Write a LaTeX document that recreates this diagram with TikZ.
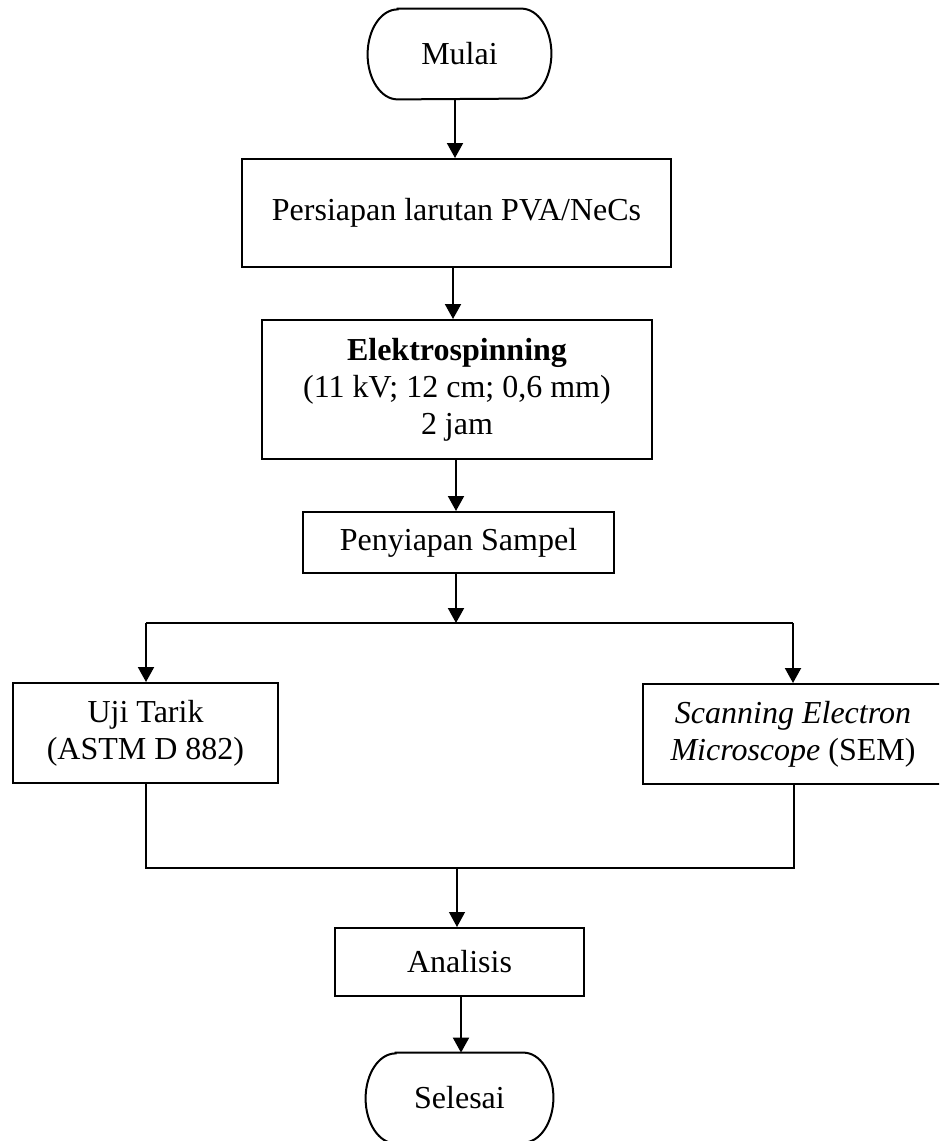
\documentclass[tikz,border=0pt]{standalone}
\usepackage{fontspec}
\setmainfont{Liberation Serif}
\usetikzlibrary{arrows.meta}
\newcommand\termshape[1]{%
  \draw[boxline] ([xshift=15pt]#1.north west) -- ([xshift=-15pt]#1.north east)
    arc[start angle=90,end angle=-90,x radius=15pt,y radius=22.5pt]
    -- ([xshift=15pt]#1.south west)
    arc[start angle=270,end angle=90,x radius=15pt,y radius=22.5pt] -- cycle;}
\begin{document}
\begin{tikzpicture}[x=0.5pt,y=-0.5pt,
  boxline/.style={line width=1pt,draw=black},
  procbox/.style={boxline,inner sep=0pt,align=center,font=\fontsize{16}{18.4}\selectfont},
  termnode/.style={inner sep=0pt,align=center,font=\fontsize{16}{18.4}\selectfont,minimum height=45pt},
  arr/.style={line width=1pt,-{Triangle[length=7.5pt,width=8pt]}},
  conn/.style={line width=1pt}]
\clip (0,0) rectangle (939,1141);
\node[termnode,minimum width=91.5pt] (mulai) at (459.5,54) {Mulai};
\termshape{mulai}
\node[procbox,minimum width=214.5pt,minimum height=54pt] (persiapan) at (456.5,213) {Persiapan larutan PVA/NeCs};
\node[procbox,minimum width=195pt,minimum height=69.5pt] (elektro) at (457,389.5) {\textbf{Elektrospinning}\\(11 kV; 12 cm; 0,6 mm)\\2 jam};
\node[procbox,minimum width=155.5pt,minimum height=30.5pt] (penyiapan) at (458.5,542.5) {Penyiapan Sampel};
\node[procbox,minimum width=132.5pt,minimum height=50pt] (uji) at (145.5,733) {Uji Tarik\\(ASTM D 882)};
\node[procbox,minimum width=150pt,minimum height=50pt] (sem) at (793,734) {\textit{Scanning Electron}\\\textit{Microscope} (SEM)};
\node[procbox,minimum width=124.5pt,minimum height=34pt] (analisis) at (459.5,962) {Analisis};
\node[termnode,minimum width=93.5pt] (selesai) at (459.5,1098) {Selesai};
\termshape{selesai}
\coordinate (split) at (456,623);
\coordinate (splitL) at (146,623);
\coordinate (splitR) at (793,623);
\coordinate (joinL) at (146,868);
\coordinate (joinR) at (794,868);
\coordinate (joinM) at (457,868);
\draw[arr] (mulai.south -| 455,0) -- (persiapan.north -| 455,0);
\draw[arr] (persiapan.south -| 453,0) -- (elektro.north -| 453,0);
\draw[arr] (elektro.south -| 456,0) -- (penyiapan.north -| 456,0);
\draw[arr] (penyiapan.south -| split) -- (split);
\draw[conn] (splitL) -- (splitR);
\draw[arr] (splitL) -- (uji.north -| splitL);
\draw[arr] (splitR) -- (sem.north -| splitR);
\draw[conn] (uji.south -| joinL) -- (joinL) -- (joinR) -- (sem.south -| joinR);
\draw[arr,line width=0.6pt] (joinM) -- (analisis.north -| joinM);
\draw[arr] (analisis.south -| 461,0) -- (selesai.north -| 461,0);
\end{tikzpicture}
\end{document}
